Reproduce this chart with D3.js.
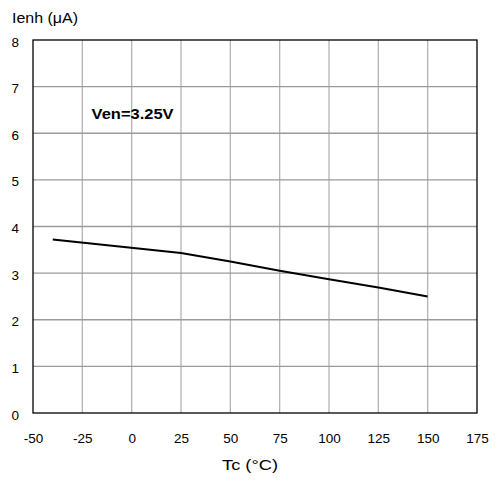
<!DOCTYPE html>
<html>
<head>
<meta charset="utf-8">
<script src="https://cdn.jsdelivr.net/npm/d3@7"></script>
<style>
  body { margin: 0; background: #fff; }
  text { font-family: Arial, "Liberation Sans", sans-serif; font-size: 13.5px; fill: #000; }
</style>
</head>
<body>
<svg id="chart" width="499" height="482"></svg>
<script>
// data
var temps = [-40, 25, 50, 75, 100, 125, 150];
var ienh = [3.72, 3.43, 3.25, 3.05, 2.87, 2.69, 2.50];
var xTicks = [-50, -25, 0, 25, 50, 75, 100, 125, 150, 175];
var yTicks = [0, 1, 2, 3, 4, 5, 6, 7, 8];

var margin = {top: 40, right: 22, bottom: 69, left: 33},
    width = 499 - margin.left - margin.right,
    height = 482 - margin.top - margin.bottom;

var svg = d3.select("#chart")
  .append("g")
  .attr("transform", "translate(" + margin.left + "," + margin.top + ")");

var x = d3.scaleLinear().domain([-50, 175]).range([0, width]);
var y = d3.scaleLinear().domain([0, 8]).range([height, 0]);

// grid
svg.selectAll("line.vgrid")
  .data(xTicks.slice(1, -1))
  .enter().append("line")
  .attr("x1", function(d) { return x(d); })
  .attr("x2", function(d) { return x(d); })
  .attr("y1", 0).attr("y2", height)
  .attr("stroke", "#b4b4b4").attr("stroke-width", 1.3);

svg.selectAll("line.hgrid")
  .data(yTicks.slice(1, -1))
  .enter().append("line")
  .attr("x1", 0).attr("x2", width)
  .attr("y1", function(d) { return y(d); })
  .attr("y2", function(d) { return y(d); })
  .attr("stroke", "#9a9a9a").attr("stroke-width", 1.3);

// frame
svg.append("rect")
  .attr("width", width).attr("height", height)
  .attr("fill", "none").attr("stroke", "#000").attr("stroke-width", 1.3);

// axes labels (no tick marks)
var plain = function(d) { return String(d); };
var xAxis = svg.append("g")
  .attr("transform", "translate(0," + height + ")")
  .call(d3.axisBottom(x).tickValues(xTicks).tickFormat(plain).tickSize(0).tickPadding(20));
var yAxis = svg.append("g")
  .call(d3.axisLeft(y).tickValues(yTicks).tickFormat(plain).tickSize(0).tickPadding(14));
[xAxis, yAxis].forEach(function(a) {
  a.select(".domain").remove();
  a.selectAll("text").attr("fill", "#000");
});
yAxis.selectAll("text").attr("dy", "0.45em");

// curve
var line = d3.line()
  .x(function(d, i) { return x(temps[i]); })
  .y(function(d) { return y(d); });

svg.append("path")
  .datum(ienh)
  .attr("d", line)
  .attr("fill", "none")
  .attr("stroke", "#000")
  .attr("stroke-width", 2);

// texts (glyphs in the original are a bit wider than Arial)
svg.append("text")
  .attr("x", x(-20.3)).attr("y", y(6.31))
  .attr("font-weight", "bold")
  .style("font-size", "14px")
  .attr("textLength", 82)
  .attr("lengthAdjust", "spacingAndGlyphs")
  .text("Ven=3.25V");

d3.select("#chart").append("text")
  .attr("x", 12).attr("y", 23)
  .style("font-size", "14px")
  .attr("textLength", 66)
  .attr("lengthAdjust", "spacingAndGlyphs")
  .text("Ienh (μA)");

d3.select("#chart").append("text")
  .attr("x", 222).attr("y", 470)
  .style("font-size", "14px")
  .attr("textLength", 56)
  .attr("lengthAdjust", "spacingAndGlyphs")
  .text("Tc (°C)");
</script>
</body>
</html>
